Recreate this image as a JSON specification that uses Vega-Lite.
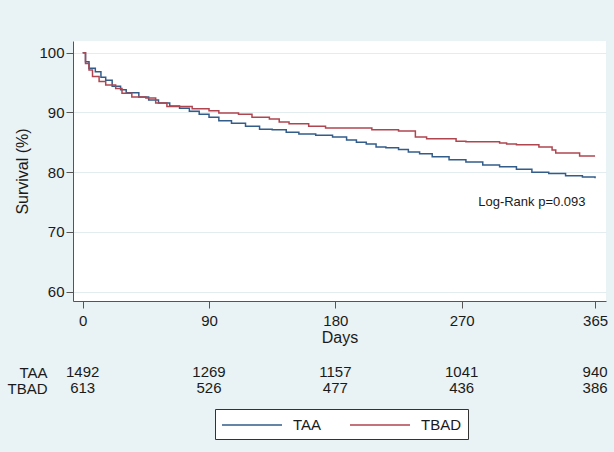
{
  "$schema": "https://vega.github.io/schema/vega-lite/v6.json",
  "background": "#e9f2f4",
  "padding": {"left": 6, "top": 41, "right": 20, "bottom": 20},
  "config": {
    "font": "Liberation Sans",
    "axis": {
      "labelFont": "Liberation Sans",
      "labelFontSize": 15,
      "labelColor": "#1a1a1a",
      "titleFont": "Liberation Sans",
      "titleFontSize": 16,
      "titleFontWeight": "normal",
      "titleColor": "#1a1a1a",
      "domainColor": "#555555",
      "tickColor": "#555555",
      "tickSize": 7
    },
    "legend": {
      "labelFont": "Liberation Sans"
    },
    "concat": {"spacing": 19}
  },
  "datasets": {
    "km": [
      {"group": "TAA", "day": 0, "surv": 100},
      {"group": "TAA", "day": 2, "surv": 98.5},
      {"group": "TAA", "day": 4.5, "surv": 97.4},
      {"group": "TAA", "day": 9, "surv": 96.8},
      {"group": "TAA", "day": 13, "surv": 95.9},
      {"group": "TAA", "day": 16.4, "surv": 95.4},
      {"group": "TAA", "day": 21, "surv": 94.4},
      {"group": "TAA", "day": 27, "surv": 93.8},
      {"group": "TAA", "day": 31, "surv": 93.3},
      {"group": "TAA", "day": 40, "surv": 92.6},
      {"group": "TAA", "day": 47, "surv": 92.1},
      {"group": "TAA", "day": 54, "surv": 91.6},
      {"group": "TAA", "day": 62, "surv": 91.1},
      {"group": "TAA", "day": 69, "surv": 90.7},
      {"group": "TAA", "day": 76, "surv": 90.2},
      {"group": "TAA", "day": 83, "surv": 89.7},
      {"group": "TAA", "day": 90, "surv": 89.2},
      {"group": "TAA", "day": 97, "surv": 88.6},
      {"group": "TAA", "day": 106, "surv": 88.2},
      {"group": "TAA", "day": 116, "surv": 87.7},
      {"group": "TAA", "day": 126, "surv": 87.2},
      {"group": "TAA", "day": 135, "surv": 87.1},
      {"group": "TAA", "day": 145, "surv": 86.7},
      {"group": "TAA", "day": 154, "surv": 86.4},
      {"group": "TAA", "day": 166, "surv": 86.2},
      {"group": "TAA", "day": 178, "surv": 85.9},
      {"group": "TAA", "day": 188, "surv": 85.4},
      {"group": "TAA", "day": 195, "surv": 85.0},
      {"group": "TAA", "day": 202, "surv": 84.7},
      {"group": "TAA", "day": 209, "surv": 84.2},
      {"group": "TAA", "day": 216, "surv": 84.1},
      {"group": "TAA", "day": 225, "surv": 83.8},
      {"group": "TAA", "day": 232, "surv": 83.4},
      {"group": "TAA", "day": 240, "surv": 83.1},
      {"group": "TAA", "day": 249, "surv": 82.6},
      {"group": "TAA", "day": 261, "surv": 82.1},
      {"group": "TAA", "day": 273, "surv": 81.7},
      {"group": "TAA", "day": 285, "surv": 81.2},
      {"group": "TAA", "day": 297, "surv": 80.9},
      {"group": "TAA", "day": 309, "surv": 80.5},
      {"group": "TAA", "day": 320, "surv": 80.0},
      {"group": "TAA", "day": 332, "surv": 79.8},
      {"group": "TAA", "day": 344, "surv": 79.4},
      {"group": "TAA", "day": 356, "surv": 79.2},
      {"group": "TAA", "day": 365, "surv": 79.0},
      {"group": "TBAD", "day": 0, "surv": 100},
      {"group": "TBAD", "day": 2, "surv": 98.2},
      {"group": "TBAD", "day": 4.5, "surv": 97.1},
      {"group": "TBAD", "day": 7, "surv": 96.0},
      {"group": "TBAD", "day": 11.7, "surv": 95.2},
      {"group": "TBAD", "day": 16.4, "surv": 94.6},
      {"group": "TBAD", "day": 23.5, "surv": 94.0},
      {"group": "TBAD", "day": 28, "surv": 93.2},
      {"group": "TBAD", "day": 35, "surv": 92.6},
      {"group": "TBAD", "day": 45, "surv": 92.4},
      {"group": "TBAD", "day": 52, "surv": 91.6},
      {"group": "TBAD", "day": 60, "surv": 91.0},
      {"group": "TBAD", "day": 78, "surv": 90.6},
      {"group": "TBAD", "day": 90, "surv": 90.3},
      {"group": "TBAD", "day": 97, "surv": 89.9},
      {"group": "TBAD", "day": 111, "surv": 89.7},
      {"group": "TBAD", "day": 120.6, "surv": 89.2},
      {"group": "TBAD", "day": 133, "surv": 88.9},
      {"group": "TBAD", "day": 140, "surv": 88.4},
      {"group": "TBAD", "day": 147, "surv": 88.1},
      {"group": "TBAD", "day": 161, "surv": 87.7},
      {"group": "TBAD", "day": 173, "surv": 87.4},
      {"group": "TBAD", "day": 206, "surv": 87.1},
      {"group": "TBAD", "day": 225, "surv": 86.9},
      {"group": "TBAD", "day": 237, "surv": 85.9},
      {"group": "TBAD", "day": 245, "surv": 85.6},
      {"group": "TBAD", "day": 266, "surv": 85.2},
      {"group": "TBAD", "day": 273, "surv": 85.1},
      {"group": "TBAD", "day": 297, "surv": 84.9},
      {"group": "TBAD", "day": 302, "surv": 84.7},
      {"group": "TBAD", "day": 309, "surv": 84.6},
      {"group": "TBAD", "day": 325, "surv": 84.2},
      {"group": "TBAD", "day": 334.4, "surv": 83.7},
      {"group": "TBAD", "day": 337, "surv": 83.2},
      {"group": "TBAD", "day": 354, "surv": 82.7},
      {"group": "TBAD", "day": 365, "surv": 82.7}
    ],
    "risk": [
      {"group": "TAA", "day": 0, "n": 1492},
      {"group": "TAA", "day": 90, "n": 1269},
      {"group": "TAA", "day": 180, "n": 1157},
      {"group": "TAA", "day": 270, "n": 1041},
      {"group": "TAA", "day": 365, "n": 940},
      {"group": "TBAD", "day": 0, "n": 613},
      {"group": "TBAD", "day": 90, "n": 526},
      {"group": "TBAD", "day": 180, "n": 477},
      {"group": "TBAD", "day": 270, "n": 436},
      {"group": "TBAD", "day": 365, "n": 386}
    ]
  },
  "vconcat": [
    {
      "width": 533,
      "height": 260,
      "view": {"fill": "white", "stroke": null},
      "layer": [
        {
          "data": {"name": "km"},
          "mark": {"type": "line", "interpolate": "step-after", "strokeWidth": 1.5},
          "encoding": {
            "x": {
              "field": "day", "type": "quantitative",
              "scale": {"domain": [-6.9, 372.8], "nice": false, "zero": false},
              "axis": {"values": [0, 90, 180, 270, 365], "title": "Days", "grid": false, "labelPadding": 5, "titlePadding": 1}
            },
            "y": {
              "field": "surv", "type": "quantitative",
              "scale": {"domain": [58.44, 101.96], "nice": false, "zero": false},
              "axis": {"values": [60, 70, 80, 90, 100], "title": "Survival (%)", "grid": true, "gridColor": "#e3ecef", "gridWidth": 1, "labelPadding": 2, "titlePadding": 8}
            },
            "color": {
              "field": "group", "type": "nominal",
              "scale": {"domain": ["TAA", "TBAD"], "range": ["#325d8a", "#b0454f"]},
              "legend": {
                "orient": "none", "legendX": 142, "legendY": 368,
                "direction": "horizontal", "columns": 2, "title": null,
                "strokeColor": "#333333", "fillColor": "white", "padding": 6,
                "symbolType": "M-1,0H5.667", "symbolSize": 324, "symbolStrokeWidth": 1.5,
                "labelFontSize": 15, "labelColor": "#1a1a1a", "labelOffset": 52, "columnPadding": 25
              }
            }
          }
        },
        {
          "data": {"values": [{"label": "Log-Rank p=0.093"}]},
          "mark": {"type": "text", "fontSize": 13, "color": "#1a1a1a", "font": "Liberation Sans"},
          "encoding": {
            "x": {"datum": 320},
            "y": {"datum": 75},
            "text": {"field": "label"}
          }
        }
      ]
    },
    {
      "width": 533,
      "height": 32,
      "view": {"fill": null, "stroke": null},
      "data": {"name": "risk"},
      "mark": {"type": "text", "fontSize": 15, "color": "#1a1a1a", "font": "Liberation Sans"},
      "encoding": {
        "x": {
          "field": "day", "type": "quantitative",
          "scale": {"domain": [-6.9, 372.8], "nice": false, "zero": false},
          "axis": null
        },
        "y": {
          "field": "group", "type": "nominal",
          "scale": {"domain": ["TAA", "TBAD"], "paddingInner": 0, "paddingOuter": 0},
          "axis": {"title": null, "domain": false, "ticks": false, "grid": false, "labelPadding": 26, "labelFontSize": 15}
        },
        "text": {"field": "n"}
      }
    }
  ]
}
